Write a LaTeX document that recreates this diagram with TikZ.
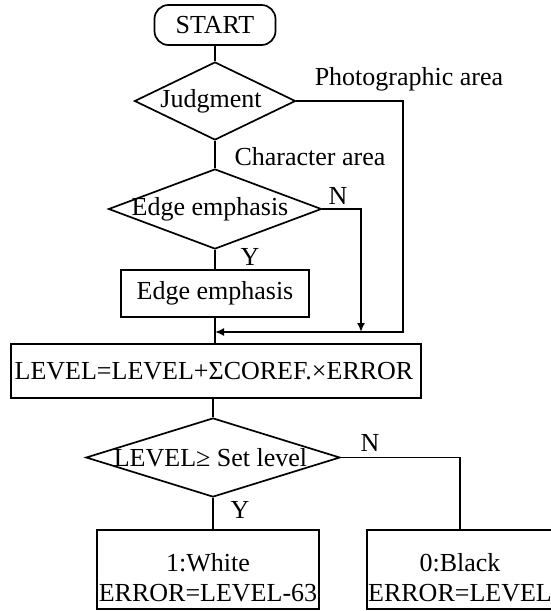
\documentclass[tikz,border=0pt]{standalone}
\usepackage{fontspec}
\setmainfont{Liberation Serif}
\usetikzlibrary{shapes.geometric,arrows.meta}
\begin{document}
\begin{tikzpicture}[x=1pt,y=-1pt,line width=1.7pt,
  every node/.style={font=\fontsize{26}{30}\selectfont,inner sep=0pt},
  txt/.style={anchor=center},
  terminal/.style={draw,rectangle,rounded corners=14pt},
  decision/.style={draw,diamond},
  procbox/.style={draw,rectangle},
  flow/.style={-{Latex[length=9pt,width=8pt]}}]
\useasboundingbox (0,0) rectangle (551,611);
\clip (0,0) rectangle (551,611);

% start terminal
\node[terminal,minimum width=121pt,minimum height=40pt] (start) at (215,25) {};
\node[txt] (startt) at (215,25) {START};

% area judgment
\node[decision,minimum width=161pt,minimum height=78pt] (judg) at (215,101) {};
\node[txt] (judgt) at (211,101) {Judgment};
\node[txt] (photo) at (409,79) {Photographic area};
\node[txt] (chara) at (310,157) {Character area};

% edge emphasis decision and process
\node[decision,minimum width=213pt,minimum height=80pt] (edg) at (215,209) {};
\node[txt] (edgt) at (210,209) {Edge emphasis};
\node[txt] (edgn) at (338,196) {N};
\node[txt] (edgy) at (250,257) {Y};
\node[procbox,minimum width=188pt,minimum height=47pt] (ebox) at (215,293.5) {};
\node[txt] (eboxt) at (215,293.5) {Edge emphasis};

% merge points
\coordinate (mrg) at (215,332);
\coordinate (nend) at (361,332);
\coordinate (pend) at (403,332);

% level accumulation
\node[procbox,minimum width=410pt,minimum height=54pt] (lvl) at (216,371) {};
\node[txt] (lvlt) at (214,371) {LEVEL=LEVEL+ΣCOREF.×ERROR};

% threshold decision
\node[decision,minimum width=254pt,minimum height=79pt] (dec) at (213,457.5) {};
\node[txt] (dect) at (210.5,457.5) {LEVEL≥ Set level};
\node[txt] (decn) at (370,443) {N};
\node[txt] (decy) at (240,510) {Y};

% outputs
\node[procbox,minimum width=222pt,minimum height=79pt] (wht) at (208,569.5) {};
\node[txt] (whta) at (208,563) {1:White};
\node[txt] (whtb) at (208,593) {ERROR=LEVEL-63};
\node[procbox,minimum width=186pt,minimum height=79pt] (blk) at (460,569.5) {};
\node[txt] (blka) at (460,563) {0:Black};
\node[txt] (blkb) at (460,593) {ERROR=LEVEL};

% connectors
\draw (start.south) -- (judg.north);
\draw (judg.south) -- (edg.north);
\draw (edg.south) -- (ebox.north);
\draw (ebox.south) -- (ebox.south |- lvl.north);
\draw[flow] (judg.east) -| (pend) -- (mrg);
\draw[flow] (edg.east) -| (nend);
\draw (lvl.south -| dec.north) -- (dec.north);
\draw (dec.south) -- (dec.south |- wht.north);
\draw (dec.east) -| (blk.north);
\end{tikzpicture}
\end{document}
